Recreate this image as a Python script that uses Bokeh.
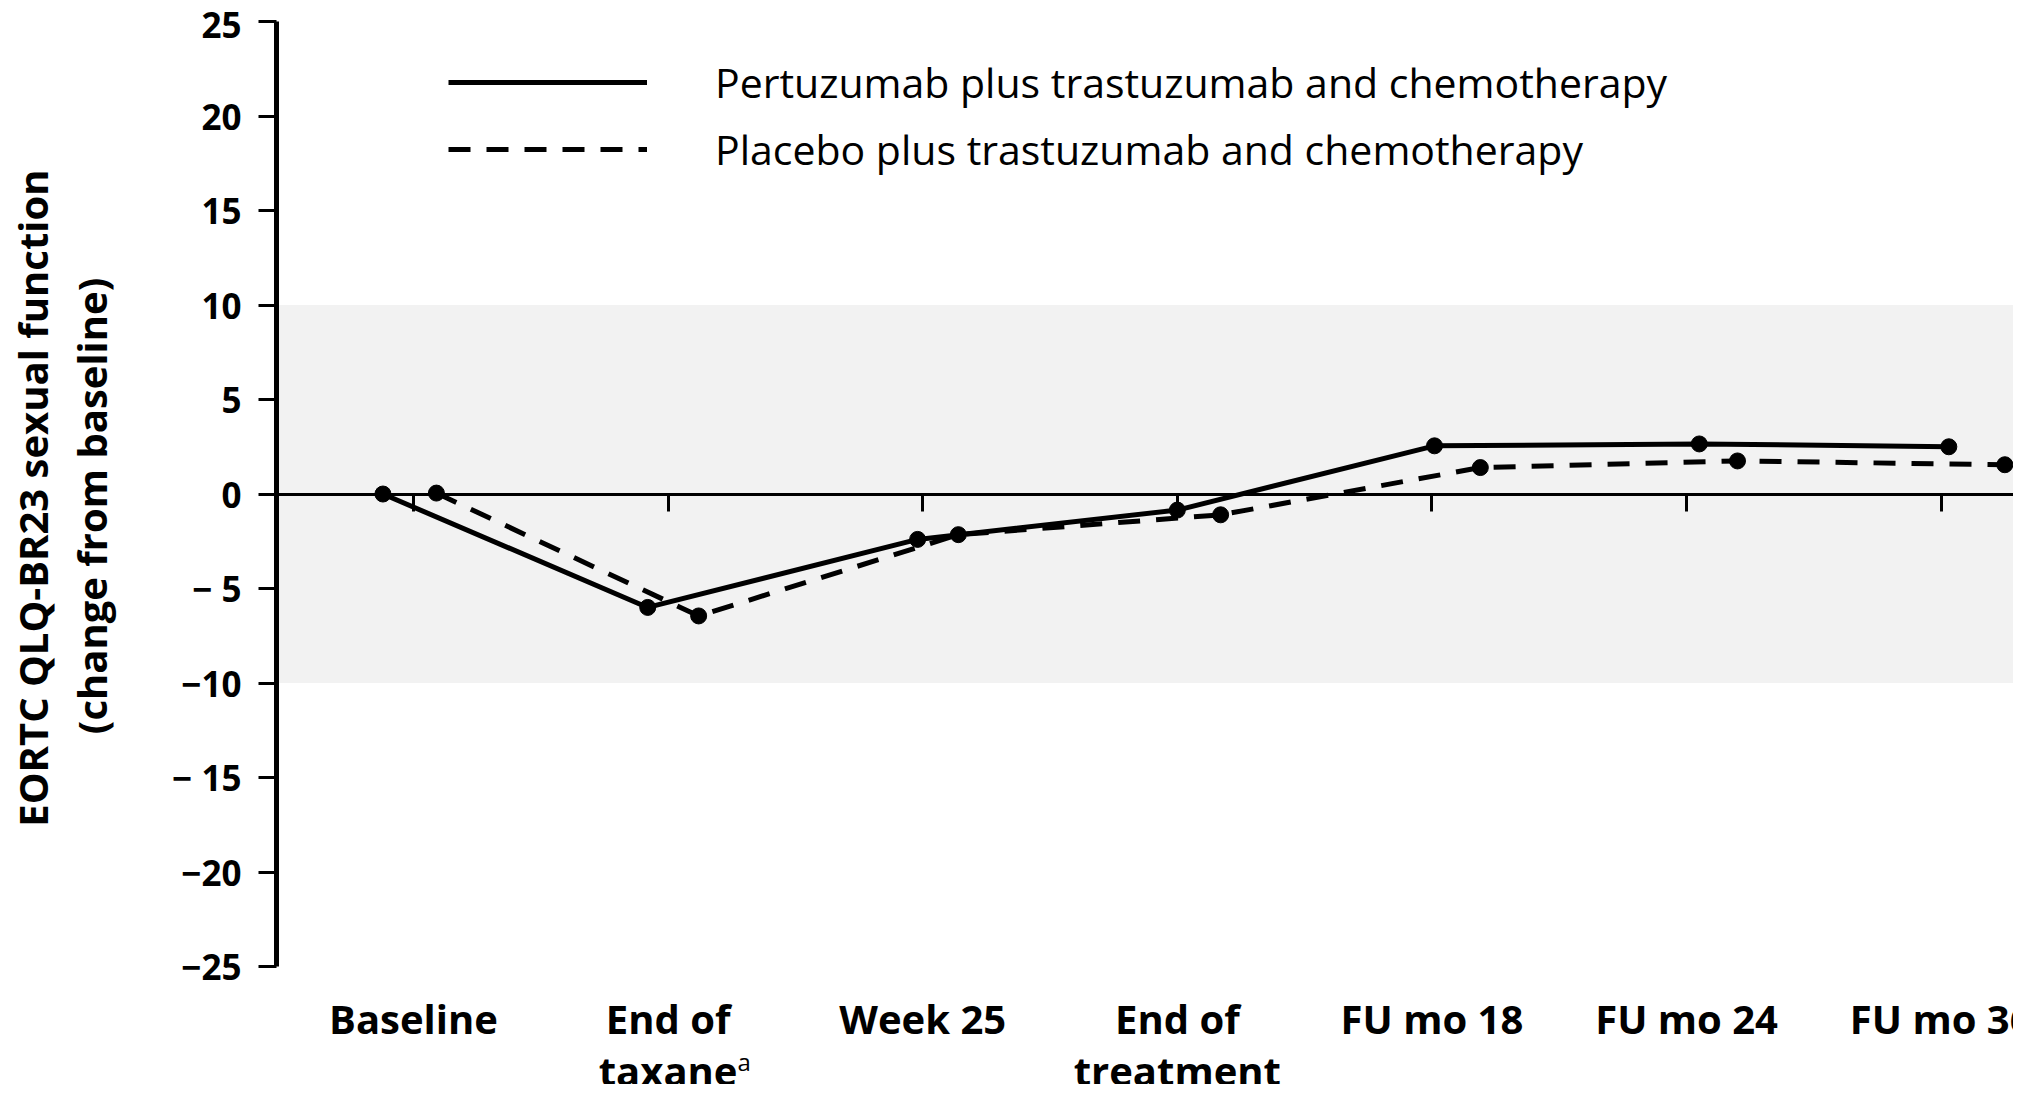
import math
from bokeh.plotting import figure
from bokeh.layouts import row
from bokeh.models import (LinearAxis, FixedTicker, BoxAnnotation, Legend,
                          LegendItem, Range1d, ColumnDataSource)
from bokeh.core.properties import value
from bokeh.embed import file_html
from bokeh.resources import INLINE

# ---- data ----
categories = ["Baseline", "End of\ntaxane", "Week 25", "End of\ntreatment",
              "FU mo 18", "FU mo 24", "FU mo 36"]
cat_pos = [0, 1, 2, 3, 4, 5, 6]
footnote_mark = "a"          # superscript after "taxane"
footnote_cat = 1

series_names = ["Pertuzumab plus trastuzumab and chemotherapy",
                "Placebo plus trastuzumab and chemotherapy"]
pertuzumab_x = [-0.12, 0.92, 1.98, 3.00, 4.01, 5.05, 6.03]
pertuzumab_y = [0.0, -6.0, -2.4, -0.85, 2.55, 2.65, 2.5]
placebo_x = [0.09, 1.12, 2.14, 3.17, 4.19, 5.20, 6.25]
placebo_y = [0.05, -6.45, -2.15, -1.1, 1.4, 1.75, 1.55]

y_ticks = [-25, -20, -15, -10, -5, 0, 5, 10, 15, 20, 25]
y_tick_labels = ["\u221225", "\u221220", "\u2212 15", "\u221210", "\u2212 5", "0",
                 "5", "10", "15", "20", "25"]
y_bounds = (-25, 25)
band = (-10, 10)
y_title_lines = ["EORTC QLQ-BR23 sexual function", "(change from baseline)"]

FONT = "Open Sans"
TOTAL_W, TOTAL_H = 2013, 1084
LABEL_W = 160

# ---- y-axis title strip (rotated text) ----
lab = figure(width=LABEL_W, height=TOTAL_H, x_range=Range1d(0, LABEL_W),
             y_range=Range1d(0, TOTAL_H), x_axis_type=None, y_axis_type=None,
             output_backend="svg", toolbar_location=None, min_border=0)
lab.outline_line_color = None
lab.grid.grid_line_color = None
lab.background_fill_color = "white"
lab.border_fill_color = "white"
lab.text(x=[32, 91], y=[TOTAL_H - 486, TOTAL_H - 494], text=y_title_lines,
         angle=math.pi / 2, text_align="center", text_baseline="alphabetic",
         text_font=value(FONT), text_font_style="bold", text_font_size="40px",
         text_color="black")

# ---- main plot: frame top at 21px, 18.9 px per unit, down to the bottom ----
p = figure(width=TOTAL_W - LABEL_W, height=TOTAL_H,
           x_range=Range1d(-0.538, 6.284), y_range=Range1d(-31.24, 25),
           x_axis_type=None,
           output_backend="svg", toolbar_location=None,
           min_border_left=276 - LABEL_W, min_border_top=21, min_border_right=0,
           min_border_bottom=0)
p.outline_line_color = None
p.grid.grid_line_color = None
p.background_fill_color = "white"
p.border_fill_color = "white"

p.add_layout(BoxAnnotation(bottom=band[0], top=band[1], fill_color="#f2f2f2",
                           fill_alpha=1.0, line_color=None, level="underlay"))

ya = p.yaxis[0]
ya.bounds = y_bounds
ya.ticker = FixedTicker(ticks=y_ticks)
ya.major_label_overrides = {t: l for t, l in zip(y_ticks, y_tick_labels)}
ya.axis_line_width = 5
ya.major_tick_line_width = 3
ya.major_tick_out = 18
ya.major_tick_in = 0
ya.minor_tick_line_color = None
ya.major_label_standoff = 17
ya.major_label_text_font = FONT
ya.major_label_text_font_style = "bold"
ya.major_label_text_font_size = "35px"
ya.major_label_text_color = "black"

# zero line with category ticks pointing down (axis placed above, fixed at 0)
xa = LinearAxis(fixed_location=0, ticker=FixedTicker(ticks=cat_pos),
                axis_line_width=3, major_tick_out=0, major_tick_in=17,
                major_tick_line_width=3, minor_tick_line_color=None,
                major_label_text_color=None, major_label_standoff=0,
                major_label_text_font_size="2px")
p.add_layout(xa, "above")

# category labels
lab_src = ColumnDataSource(dict(x=cat_pos, y=[-26.3] * len(cat_pos), text=categories))
p.text(x="x", y="y", text="text", source=lab_src, text_align="center",
       text_baseline="top", text_font=value(FONT), text_font_style="bold",
       text_font_size="40px", text_line_height=0.95, text_color="black")
p.text(x=[footnote_cat + 0.273], y=[-30.0], text=[footnote_mark],
       text_align="left", text_baseline="alphabetic", text_font=value(FONT),
       text_font_size="24px", text_color="black")

# series
r1 = p.line(pertuzumab_x, pertuzumab_y, line_width=5, line_color="black")
p.scatter(pertuzumab_x, pertuzumab_y, size=16, color="black")
r2 = p.line(placebo_x, placebo_y, line_width=5, line_color="black", line_dash="22 16")
p.scatter(placebo_x, placebo_y, size=16, color="black")

legend = Legend(items=[LegendItem(label=series_names[0], renderers=[r1]),
                       LegendItem(label=series_names[1], renderers=[r2])],
                location=(172, 907), glyph_width=199, glyph_height=40,
                label_height=40, label_standoff=68, spacing=11,
                padding=0, margin=0, border_line_color=None,
                background_fill_alpha=0,
                label_text_font=FONT, label_text_font_size="41px",
                label_text_color="black")
p.add_layout(legend)

layout = row(lab, p, spacing=0)
open("out.html", "w").write(file_html(layout, INLINE))
